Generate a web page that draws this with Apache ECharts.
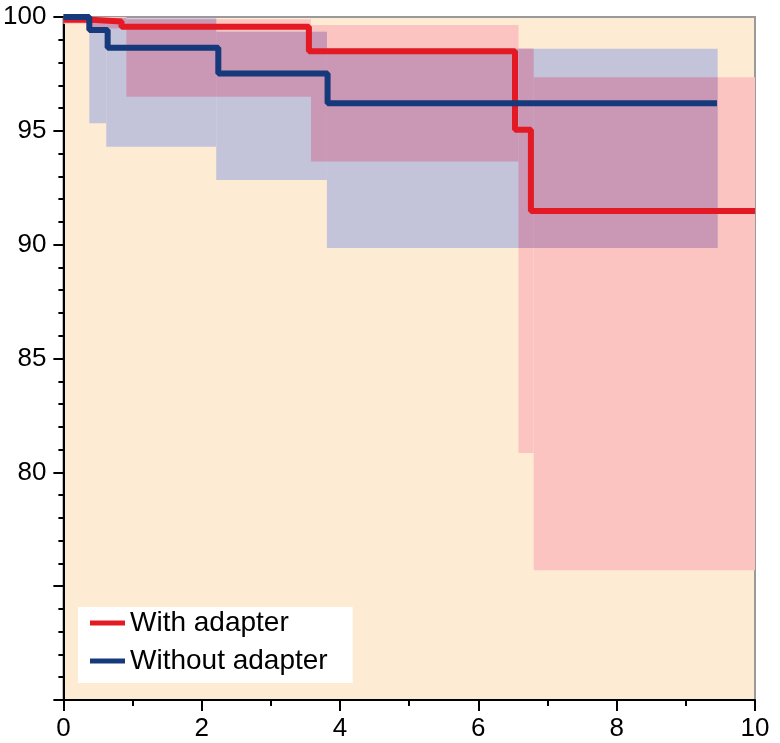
<!DOCTYPE html>
<html>
<head>
<meta charset="utf-8">
<script src="https://cdn.jsdelivr.net/npm/echarts@6/dist/echarts.min.js"></script>
<style>html,body{margin:0;padding:0;background:#fff;}#c{width:780px;height:743px;}</style>
</head>
<body>
<div id="c"></div>
<script>
// Kaplan-Meier step lines
const withX = [0, 0.4, 0.84, 3.55, 6.53, 6.76, 10];
const withY = [99.88, 99.8, 99.57, 98.5, 95.05, 91.48, 91.48];
const withoutX = [0, 0.375, 0.64, 2.24, 3.82, 9.45];
const withoutY = [100, 99.43, 98.65, 97.52, 96.21, 96.21];

// Confidence bands (segment edges, lower and upper per segment)
const withBandX = [0, 0.4, 0.91, 3.58, 6.58, 6.8, 10];
const withBandLow = [99.7, 99.5, 96.5, 93.65, 80.85, 75.7];
const withBandHigh = [100, 100, 99.9, 99.65, 98.6, 97.35];
const withoutBandX = [0.375, 0.62, 2.21, 3.81, 9.46];
const withoutBandLow = [95.33, 94.3, 92.84, 89.85];
const withoutBandHigh = [99.95, 99.95, 99.35, 98.6];

const xTicks = [0, 2, 4, 6, 8, 10];
const yLabels = [80, 85, 90, 95, 100];
const seriesNames = ['With adapter', 'Without adapter'];

const FONT = "'Liberation Sans', Arial, sans-serif";
const RED = '#E31A24';
const BLUE = '#16397B';
const PINK = '#FBC4C0';
const LAVENDER = '#C3C3DA';
const MAUVE = '#CA97B4';

function pairs(xs, ys) { return xs.map((x, i) => [x, ys[i]]); }
function bandData(xs, lo, hi) {
  const out = [];
  for (let i = 0; i < lo.length; i++) out.push([xs[i], xs[i + 1], lo[i], hi[i]]);
  return out;
}
function overlapData(a, b) {
  const out = [];
  a.forEach(function (r) {
    b.forEach(function (s) {
      const x0 = Math.max(r[0], s[0]), x1 = Math.min(r[1], s[1]);
      const lo = Math.max(r[2], s[2]), hi = Math.min(r[3], s[3]);
      if (x1 > x0 && hi > lo) out.push([x0, x1, lo, hi]);
    });
  });
  return out;
}
function bandSeries(data, color, z) {
  return {
    type: 'custom',
    silent: true,
    z: z,
    data: data,
    encode: { x: [0, 1], y: [2, 3] },
    renderItem: function (params, api) {
      const p0 = api.coord([api.value(0), api.value(3)]);
      const p1 = api.coord([api.value(1), api.value(2)]);
      return {
        type: 'rect',
        shape: { x: p0[0], y: p0[1], width: p1[0] - p0[0], height: p1[1] - p0[1] },
        style: { fill: color }
      };
    }
  };
}

const redBand = bandData(withBandX, withBandLow, withBandHigh);
const blueBand = bandData(withoutBandX, withoutBandLow, withoutBandHigh);

const chart = echarts.init(document.getElementById('c'), null, { renderer: 'canvas' });
chart.setOption({
  backgroundColor: '#ffffff',
  animation: false,
  grid: {
    left: 62, right: 25, top: 17, bottom: 43,
    show: true, backgroundColor: '#FDEBD4', borderColor: '#9a9a9a', borderWidth: 2
  },
  legend: {
    orient: 'vertical', left: 78, top: 607,
    backgroundColor: '#ffffff',
    padding: [1, 25, 7, 12],
    itemWidth: 35, itemHeight: 5, itemGap: 8, itemTextGap: 10,
    icon: 'rect',
    textStyle: { fontSize: 28, lineHeight: 30, fontFamily: FONT, color: '#000' },
    data: [
      { name: seriesNames[0], itemStyle: { color: RED } },
      { name: seriesNames[1], itemStyle: { color: BLUE } }
    ]
  },
  xAxis: {
    type: 'value', min: 0, max: 10, interval: 2,
    axisLine: { show: true, onZero: false, lineStyle: { color: '#000', width: 2 } },
    axisTick: { show: true, length: 11, lineStyle: { color: '#000', width: 2 } },
    minorTick: { show: true, splitNumber: 2, length: 6, lineStyle: { color: '#000', width: 2 } },
    splitLine: { show: false },
    axisLabel: {
      margin: 16, fontSize: 26, fontFamily: FONT, color: '#000',
      formatter: function (v) { return xTicks.indexOf(v) >= 0 ? String(v) : ''; }
    }
  },
  yAxis: {
    type: 'value', min: 70, max: 100, interval: 5,
    axisLine: { show: true, onZero: false, lineStyle: { color: '#000', width: 2 } },
    axisTick: { show: true, length: 10, lineStyle: { color: '#000', width: 2 } },
    minorTick: { show: true, splitNumber: 5, length: 5, lineStyle: { color: '#000', width: 2 } },
    splitLine: { show: false },
    axisLabel: {
      margin: 17, fontSize: 26, fontFamily: FONT, color: '#000',
      formatter: function (v) { return yLabels.indexOf(v) >= 0 ? String(v) : ''; }
    }
  },
  series: [
    bandSeries(redBand, PINK, 1),
    bandSeries(blueBand, LAVENDER, 1),
    bandSeries(overlapData(redBand, blueBand), MAUVE, 2),
    {
      name: seriesNames[0], type: 'line', step: 'end', z: 3,
      data: pairs(withX, withY), showSymbol: false, symbol: 'none',
      lineStyle: { color: RED, width: 6 }, itemStyle: { color: RED }
    },
    {
      name: seriesNames[1], type: 'line', step: 'end', z: 3,
      data: pairs(withoutX, withoutY), showSymbol: false, symbol: 'none',
      lineStyle: { color: BLUE, width: 6 }, itemStyle: { color: BLUE }
    }
  ]
});
</script>
</body>
</html>
